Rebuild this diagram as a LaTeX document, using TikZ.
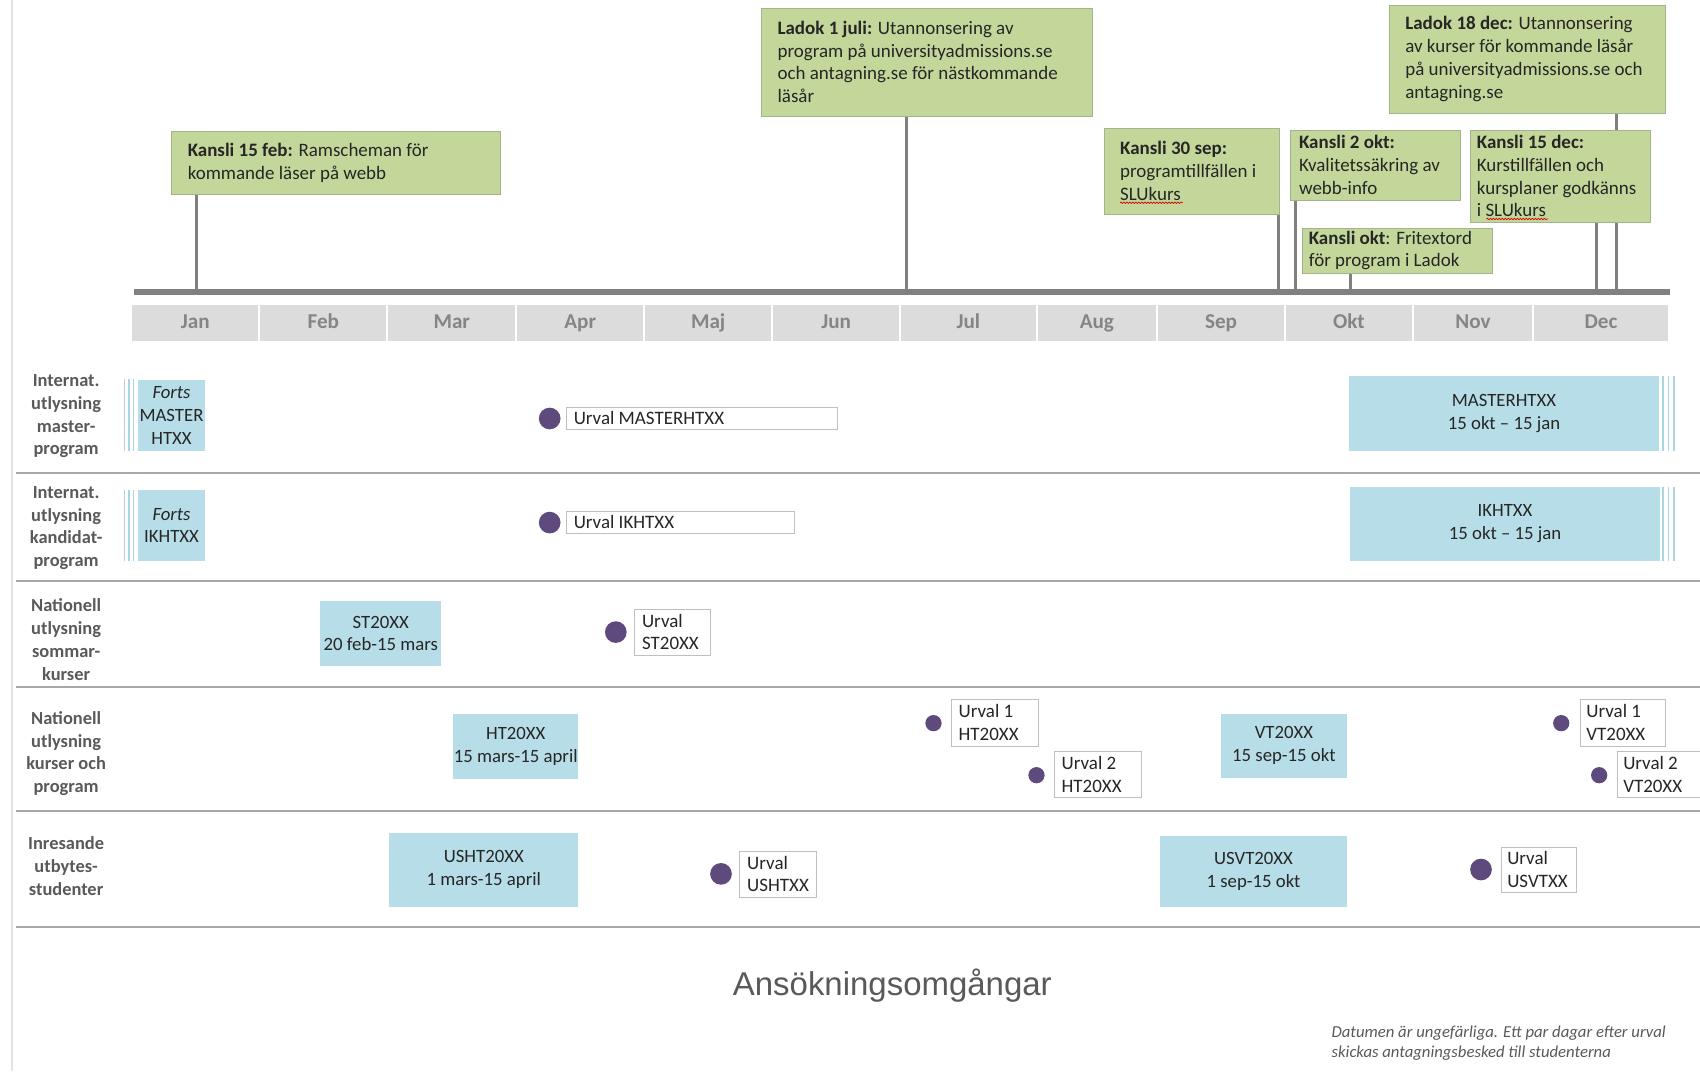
\documentclass[tikz,border=0pt]{standalone}
\usepackage{fontspec}
\setmainfont{Carlito}
\newfontfamily\titlefont{Liberation Sans}
\usetikzlibrary{decorations.pathmorphing}
\pgfdeclarelayer{background}
\pgfsetlayers{background,main}

\definecolor{callfill}{HTML}{C4D79B}
\definecolor{calledge}{HTML}{A3B38A}
\definecolor{stemgray}{HTML}{808080}
\definecolor{monthfill}{HTML}{DCDCDC}
\definecolor{monthtext}{HTML}{858585}
\definecolor{periodfill}{HTML}{B7DDE8}
\definecolor{stripeblue}{HTML}{A9D4E0}
\definecolor{dotfill}{HTML}{5E4A7D}
\definecolor{rulegray}{HTML}{A8A8A8}
\definecolor{labelgray}{HTML}{595959}
\definecolor{inkdark}{HTML}{262626}
\definecolor{urvaledge}{HTML}{BFBFBF}
\definecolor{frameline}{HTML}{E3E3E3}

% box with its top-left corner at (#3,#4) and bottom-right corner at (#5,#6)
\newcommand\mkbox[7]{\node[#1,anchor=north west,minimum width={(#5)-(#3)},minimum height={(#6)-(#4)}] (#2) at (#3,#4) {#7};}
% same box, plus a left-aligned text block starting at x = #7
\newcommand\mktextbox[8]{\mkbox{#1}{#2}{#3}{#4}{#5}{#6}{}\node[boxtext] (#2-t) at (#7,{((#4)+(#6))/2}) {#8};}

\begin{document}
\begin{tikzpicture}[x=1pt,y=-1pt,scale=1.0842,every node/.append style={transform shape},
  greenbox/.style={draw=calledge, fill=callfill, line width=0.9pt, inner sep=0pt},
  urvalbox/.style={draw=urvaledge, fill=white, line width=0.9pt, inner sep=0pt},
  periodbox/.style={fill=periodfill, inner sep=0pt, align=center, text=inkdark, font=\fontsize{17.3}{21}\selectfont},
  boxtext/.style={anchor=west, align=left, inner sep=0pt, text=inkdark, font=\fontsize{17.5}{21}\selectfont},
  monthcell/.style={fill=monthfill, inner sep=0pt, text height=13pt, text depth=2pt, text=monthtext, font=\bfseries\fontsize{19.5}{22}\selectfont},
  rowlabel/.style={align=center, inner sep=0pt, text=labelgray, font=\bfseries\fontsize{17}{21}\selectfont},
  stemline/.style={draw=stemgray, line width=3pt},
  axisline/.style={draw=stemgray, line width=6pt},
  rowrule/.style={draw=rulegray, line width=2pt},
  stripeline/.style={draw=stripeblue, line width=1.6pt},
  bigdot/.style={circle, fill=dotfill, inner sep=0pt, minimum size=20pt},
  smalldot/.style={circle, fill=dotfill, inner sep=0pt, minimum size=15pt},
  spellmark/.style={draw=red!85!black, line width=0.7pt, decorate, decoration={snake, amplitude=0.7pt, segment length=3pt}}]

\useasboundingbox (0,0) rectangle (1568,988);
\clip (0,0) rectangle (1568,988);

% page edge
\draw[draw=frameline, line width=1.5pt] (11,0) -- (11,988);

% ---------- milestone callouts ----------
\mktextbox{greenbox}{k15feb}{158}{121}{461}{179}{173}{\textbf{Kansli 15 feb:} Ramscheman för\\kommande läser på webb}
\mktextbox{greenbox}{ladokjul}{702}{7}{1007}{107}{717}{\textbf{Ladok 1 juli:} Utannonsering av\\program på universityadmissions.se\\och antagning.se för nästkommande\\läsår}
\mktextbox{greenbox}{k30sep}{1018}{118}{1180}{197}{1033}{\textbf{Kansli 30 sep:}\\programtillfällen i\\SLUkurs}
\mktextbox{greenbox}{k2okt}{1190}{120}{1347}{184}{1198}{\textbf{Kansli 2 okt:}\\Kvalitetssäkring av\\webb-info}
\mktextbox{greenbox}{koktfri}{1201}{210}{1376}{252}{1207}{\textbf{Kansli okt}: Fritextord\\för program i Ladok}
\mktextbox{greenbox}{ladokdec}{1281}{5}{1536}{104}{1296}{\textbf{Ladok 18 dec:} Utannonsering\\av kurser för kommande läsår\\på universityadmissions.se och\\antagning.se}
\mktextbox{greenbox}{k15dec}{1356}{120}{1522}{205}{1362}{\textbf{Kansli 15 dec:}\\Kurstillfällen och\\kursplaner godkänns\\i SLUkurs}

% spell-check marks under "SLUkurs"
\draw[spellmark] (1033,187) -- (1091,187);
\draw[spellmark] (1371,202) -- (1428,202);

% ---------- time axis ----------
\coordinate (axisL) at (124,269);
\coordinate (axisR) at (1540,269);
\foreach \n/\sx in {k15feb/181, ladokjul/836, k30sep/1179, k2okt/1195, koktfri/1245, k15dec/1472, ladokdec/1491}
  \coordinate (s-\n) at (\sx,269);
\begin{pgfonlayer}{background}
  \foreach \n in {k15feb, ladokjul, k30sep, k2okt, koktfri, k15dec, ladokdec}
    \draw[stemline] (s-\n |- \n.south) -- (s-\n);
\end{pgfonlayer}
\draw[axisline] (axisL) -- (axisR);

% month cells
\mkbox{monthcell}{jan}{122}{281}{238}{314}{Jan}
\mkbox{monthcell}{feb}{240}{281}{356}{314}{Feb}
\mkbox{monthcell}{mar}{358}{281}{475}{314}{Mar}
\mkbox{monthcell}{apr}{477}{281}{593}{314}{Apr}
\mkbox{monthcell}{maj}{595}{281}{711}{314}{Maj}
\mkbox{monthcell}{jun}{713}{281}{829}{314}{Jun}
\mkbox{monthcell}{jul}{831}{281}{955}{314}{Jul}
\mkbox{monthcell}{aug}{957}{281}{1066}{314}{Aug}
\mkbox{monthcell}{sep}{1068}{281}{1184}{314}{Sep}
\mkbox{monthcell}{okt}{1186}{281}{1302}{314}{Okt}
\mkbox{monthcell}{nov}{1304}{281}{1413}{314}{Nov}
\mkbox{monthcell}{dec}{1415}{281}{1538}{314}{Dec}

% ---------- rows ----------
\foreach \ry in {436,536,634,748,855}
  \draw[rowrule] (15,\ry) -- (1568,\ry);

\node[rowlabel] (lab1) at (61,384) {Internat.\\utlysning\\master-\\program};
\node[rowlabel] (lab2) at (61,487) {Internat.\\utlysning\\kandidat-\\program};
\node[rowlabel] (lab3) at (61,590) {Nationell\\utlysning\\sommar-\\kurser};
\node[rowlabel] (lab4) at (61,695) {Nationell\\utlysning\\kurser och\\program};
\node[rowlabel] (lab5) at (61,799) {Inresande\\utbytes-\\studenter};

% application periods
\foreach \sx in {115,119,123} {
  \draw[stripeline] (\sx,350) -- (\sx,416);
  \draw[stripeline] (\sx,452) -- (\sx,517);
}
\foreach \sx in {1534,1539,1544} {
  \draw[stripeline] (\sx,347) -- (\sx,416);
  \draw[stripeline] (\sx,449) -- (\sx,517);
}
\mkbox{periodbox}{fortsmaster}{127}{350}{189}{416}{\textit{Forts}\\MASTER\\HTXX}
\mkbox{periodbox}{fortsik}{127}{452}{189}{517}{\textit{Forts}\\IKHTXX}
\mkbox{periodbox}{master}{1244}{347}{1530}{416}{MASTERHTXX\\15 okt – 15 jan}
\mkbox{periodbox}{ikht}{1245}{449}{1531}{517}{IKHTXX\\15 okt – 15 jan}
\mkbox{periodbox}{st}{295}{554}{407}{614}{ST20XX\\20 feb-15 mars}
\mkbox{periodbox}{ht}{418}{658}{533}{718}{HT20XX\\15 mars-15 april}
\mkbox{periodbox}{vt}{1126}{658}{1242}{717}{VT20XX\\15 sep-15 okt}
\mkbox{periodbox}{usht}{359}{768}{533}{836}{USHT20XX\\1 mars-15 april}
\mkbox{periodbox}{usvt}{1070}{771}{1242}{836}{USVT20XX\\1 sep-15 okt}

% selection dates
\node[bigdot] (d-master) at (507,386) {};
\node[bigdot] (d-ik) at (507,482) {};
\node[bigdot] (d-st) at (568,583) {};
\node[smalldot] (d-ht1) at (861,667) {};
\node[smalldot] (d-ht2) at (956,715) {};
\node[smalldot] (d-vt1) at (1440,667) {};
\node[smalldot] (d-vt2) at (1475,715) {};
\node[bigdot] (d-usht) at (665,806) {};
\node[bigdot] (d-usvt) at (1366,802) {};

\mktextbox{urvalbox}{u-master}{522}{375}{772}{396}{529}{Urval MASTERHTXX}
\mktextbox{urvalbox}{u-ik}{522}{471}{732}{492}{529}{Urval IKHTXX}
\mktextbox{urvalbox}{u-st}{585}{562}{655}{604}{592}{Urval\\ST20XX}
\mktextbox{urvalbox}{u-ht1}{877}{645}{957}{688}{884}{Urval 1\\HT20XX}
\mktextbox{urvalbox}{u-ht2}{972}{693}{1052}{735}{979}{Urval 2\\HT20XX}
\mktextbox{urvalbox}{u-vt1}{1457}{645}{1536}{688}{1463}{Urval 1\\VT20XX}
\mktextbox{urvalbox}{u-vt2}{1491}{693}{1580}{735}{1497}{Urval 2\\VT20XX}
\mktextbox{urvalbox}{u-usht}{682}{785}{753}{827}{689}{Urval\\USHTXX}
\mktextbox{urvalbox}{u-usvt}{1384}{781}{1454}{823}{1390}{Urval\\USVTXX}

% ---------- caption and note ----------
\node[font=\titlefont\fontsize{30.4}{36}\selectfont, text=labelgray, inner sep=0pt] (title) at (823,909) {Ansökningsomgångar};
\node[anchor=west, align=left, inner sep=0pt, text=labelgray, font=\itshape\fontsize{15.4}{18.5}\selectfont] (note) at (1228,962)
  {Datumen är ungefärliga. Ett par dagar efter urval\\skickas antagningsbesked till studenterna};
\end{tikzpicture}
\end{document}
